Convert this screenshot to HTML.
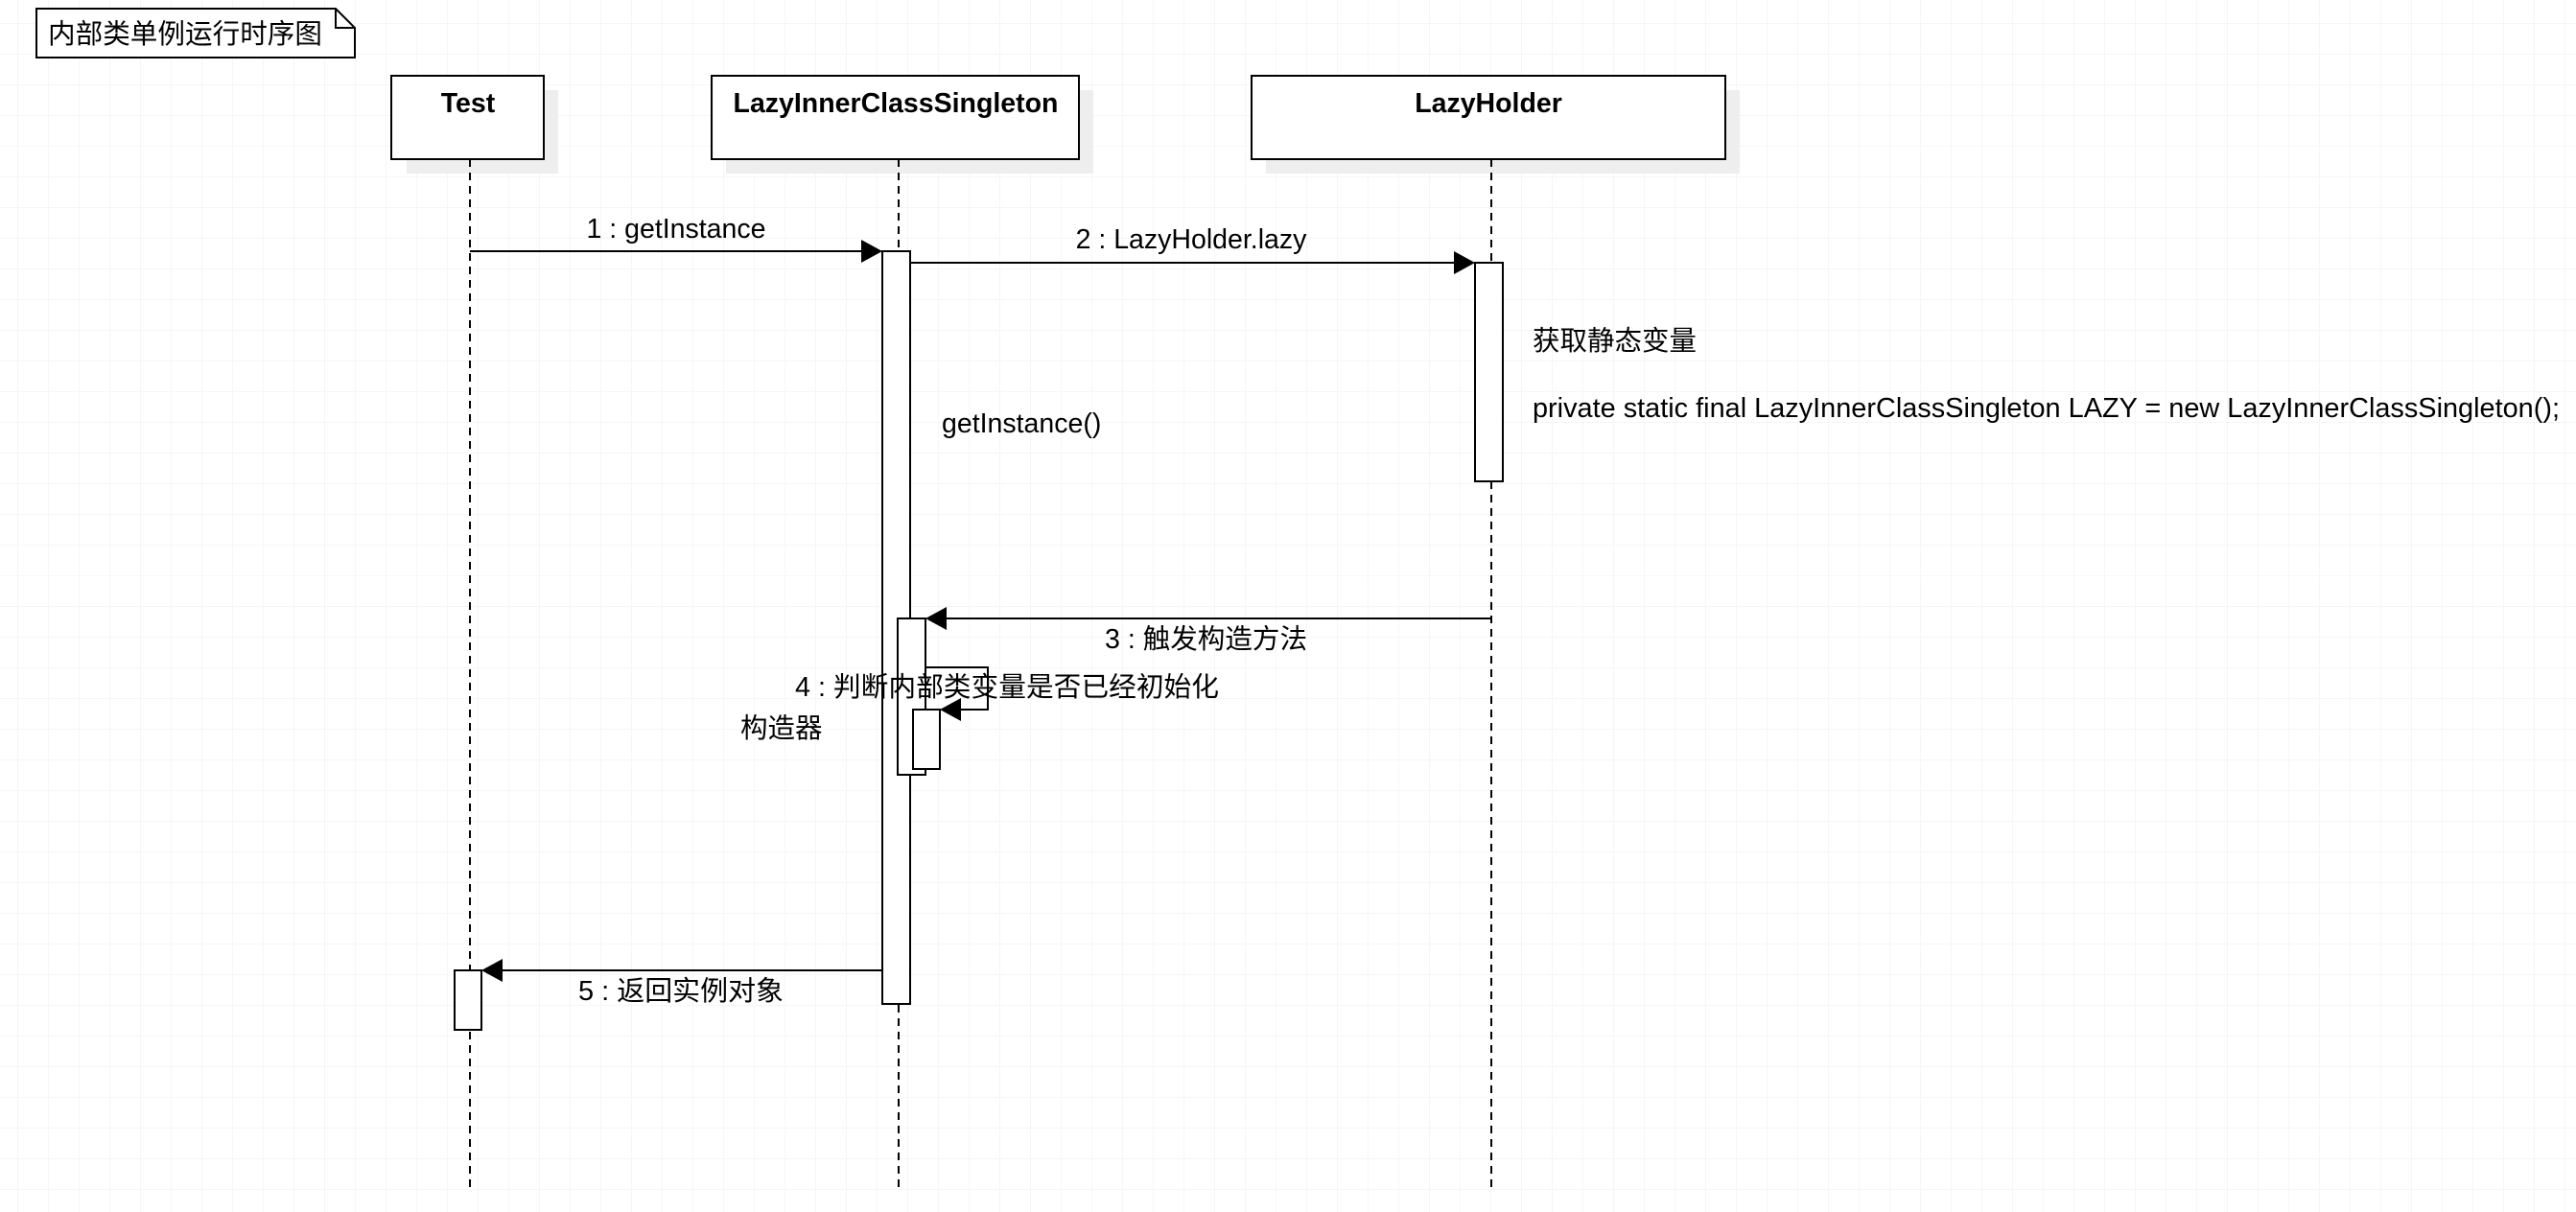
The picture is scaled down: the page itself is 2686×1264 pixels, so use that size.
<!DOCTYPE html>
<html><head><meta charset="utf-8"><style>
html,body{margin:0;padding:0;background:#fff;}
svg{display:block;}
text{font-family:"Liberation Sans","Noto Sans CJK SC",sans-serif;font-size:28.5px;fill:#000;}
</style></head><body>
<svg width="2686" height="1264" viewBox="0 0 2686 1264" xmlns="http://www.w3.org/2000/svg">
<defs>
<pattern id="g" x="18" y="24" width="32" height="32" patternUnits="userSpaceOnUse">
<path d="M32 0H0V32" fill="none" stroke="#eeeeee" stroke-width="1"/>
</pattern>
</defs>
<rect width="2686" height="1264" fill="url(#g)"/>

<!-- note -->
<path d="M38 9H350L370 29V60H38Z" fill="#fff" stroke="#000" stroke-width="2"/>
<path d="M350 9V29H370" fill="none" stroke="#000" stroke-width="2"/>
<text x="50" y="45" textLength="286" lengthAdjust="spacingAndGlyphs">内部类单例运行时序图</text>

<!-- shadows -->
<rect x="424" y="94" width="158" height="87" fill="#eeeeee"/>
<rect x="757" y="94" width="383" height="87" fill="#eeeeee"/>
<rect x="1320" y="94" width="494" height="87" fill="#eeeeee"/>
<!-- heads -->
<rect x="408" y="79" width="159" height="87" fill="#fff" stroke="#000" stroke-width="2"/>
<rect x="742" y="79" width="383" height="87" fill="#fff" stroke="#000" stroke-width="2"/>
<rect x="1305" y="79" width="494" height="87" fill="#fff" stroke="#000" stroke-width="2"/>
<text x="488" y="117" text-anchor="middle" font-weight="bold">Test</text>
<text x="934" y="117" text-anchor="middle" font-weight="bold">LazyInnerClassSingleton</text>
<text x="1552" y="117" text-anchor="middle" font-weight="bold">LazyHolder</text>

<!-- lifelines -->
<g stroke="#000" stroke-width="2" stroke-dasharray="8,6">
<line x1="490" y1="166" x2="490" y2="1240"/>
<line x1="937" y1="166" x2="937" y2="1240"/>
<line x1="1555" y1="166" x2="1555" y2="1240"/>
</g>

<!-- activations -->
<g fill="#fff" stroke="#000" stroke-width="2">
<rect x="920" y="262" width="29" height="785"/>
<rect x="1538" y="274" width="29" height="228"/>
<rect x="936" y="645" width="29" height="163"/>
<rect x="474" y="1012" width="28" height="62"/>
</g>

<!-- messages -->
<g stroke="#000" stroke-width="2" fill="none">
<line x1="490" y1="262" x2="900" y2="262"/>
<line x1="949" y1="274" x2="1518" y2="274"/>
<line x1="1555" y1="645" x2="985" y2="645"/>
<polyline points="965,696 1030,696 1030,740 1000,740"/>
<line x1="920" y1="1012" x2="522" y2="1012"/>
</g>
<rect x="952" y="740" width="28" height="62" fill="#fff" stroke="#000" stroke-width="2"/>
<g fill="#000">
<polygon points="920,262 898,250 898,274"/>
<polygon points="1538,274 1516,262 1516,286"/>
<polygon points="965,645 987,633 987,657"/>
<polygon points="980,740 1002,728 1002,752"/>
<polygon points="502,1012 524,1000 524,1024"/>
</g>

<!-- labels -->
<text x="705" y="248" text-anchor="middle">1 : getInstance</text>
<text x="1242" y="259" text-anchor="middle">2 : LazyHolder.lazy</text>
<text x="1598" y="365">获取静态变量</text>
<text x="1598" y="435" textLength="1071" lengthAdjust="spacingAndGlyphs">private static final LazyInnerClassSingleton LAZY = new LazyInnerClassSingleton();</text>
<text x="982" y="451">getInstance()</text>
<text x="1152" y="676" textLength="211" lengthAdjust="spacingAndGlyphs">3 : 触发构造方法</text>
<text x="829" y="726" textLength="442" lengthAdjust="spacingAndGlyphs">4 : 判断内部类变量是否已经初始化</text>
<text x="772" y="769">构造器</text>
<text x="603" y="1043" textLength="214" lengthAdjust="spacingAndGlyphs">5 : 返回实例对象</text>
</svg>
</body></html>
